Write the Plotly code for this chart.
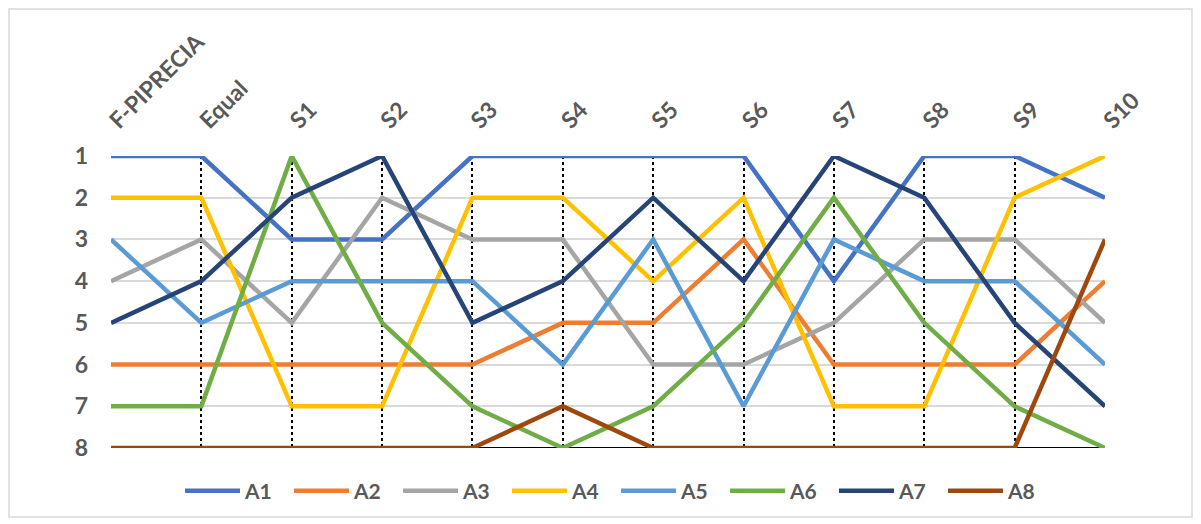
import plotly.graph_objects as go

categories = ["F-PIPRECIA", "Equal", "S1", "S2", "S3", "S4", "S5", "S6", "S7", "S8", "S9", "S10"]
A1 = [1, 1, 3, 3, 1, 1, 1, 1, 4, 1, 1, 2]
A2 = [6, 6, 6, 6, 6, 5, 5, 3, 6, 6, 6, 4]
A3 = [4, 3, 5, 2, 3, 3, 6, 6, 5, 3, 3, 5]
A4 = [2, 2, 7, 7, 2, 2, 4, 2, 7, 7, 2, 1]
A5 = [3, 5, 4, 4, 4, 6, 3, 7, 3, 4, 4, 6]
A6 = [7, 7, 1, 5, 7, 8, 7, 5, 2, 5, 7, 8]
A7 = [5, 4, 2, 1, 5, 4, 2, 4, 1, 2, 5, 7]
A8 = [8, 8, 8, 8, 8, 7, 8, 8, 8, 8, 8, 3]
y_ticks = [1, 2, 3, 4, 5, 6, 7, 8]

series = [("A1", A1, "#4472C4"), ("A2", A2, "#ED7D31"), ("A3", A3, "#A5A5A5"),
          ("A4", A4, "#FFC000"), ("A5", A5, "#5B9BD5"), ("A6", A6, "#70AD47"),
          ("A7", A7, "#264478"), ("A8", A8, "#9E480E")]

fig = go.Figure()
for name, vals, col in series:
    fig.add_trace(go.Scatter(x=categories, y=vals, name=name, mode="lines",
                             line=dict(color=col, width=4.5)))

# page body has an ~8px margin, so figure coords are offset
OX, OY = 8, 7
W, H = 1201 - 2 * OX, 524 - 2 * OY
L, R, T, B = 111 - OX, 1105 - OX, 155 - OY, 447 - OY
pw, ph = R - L, B - T

fig.update_layout(
    width=W, height=H,
    margin=dict(l=L, r=W - R, t=T, b=H - B, autoexpand=False),
    paper_bgcolor="white", plot_bgcolor="white",
    font=dict(family="Lato, Open Sans, sans-serif", color="#595959"),
    showlegend=True,
    legend=dict(orientation="h", x=0.5 + 8 / pw, xanchor="center",
                y=-(490 - 447) / ph, yanchor="middle",
                font=dict(size=21, color="#595959", weight="bold"), entrywidth=39,
                itemwidth=55),
    xaxis=dict(type="category", side="top", range=[0, len(categories) - 1], automargin=False,
               tickangle=-45, tickfont=dict(size=23, color="#595959", weight="bold"),
               ticklabelstandoff=17,
               showgrid=True, gridcolor="black", griddash="dot", gridwidth=2,
               showline=False, zeroline=False, ticks=""),
    yaxis=dict(range=[8, 1], tickvals=y_ticks, automargin=False,
               tickfont=dict(size=23, color="#595959", weight="bold"),
               showgrid=True, gridcolor="#D9D9D9", gridwidth=2, zeroline=False,
               ticks="", ticklabelstandoff=22, showline=False),
)

fig.add_shape(type="line", xref="paper", yref="y", x0=0, x1=1, y0=8, y1=8,
              line=dict(color="black", width=2), layer="below")
# chart-area border, kept just inside the figure edges
fig.add_shape(type="rect", xref="paper", yref="paper",
              x0=(1 - L) / pw, x1=(W - 1 - L) / pw,
              y0=-(H - 1 - B) / ph, y1=(B - 1) / ph,
              line=dict(color="#D9D9D9", width=1.5), layer="below")

fig.write_html("out.html")
